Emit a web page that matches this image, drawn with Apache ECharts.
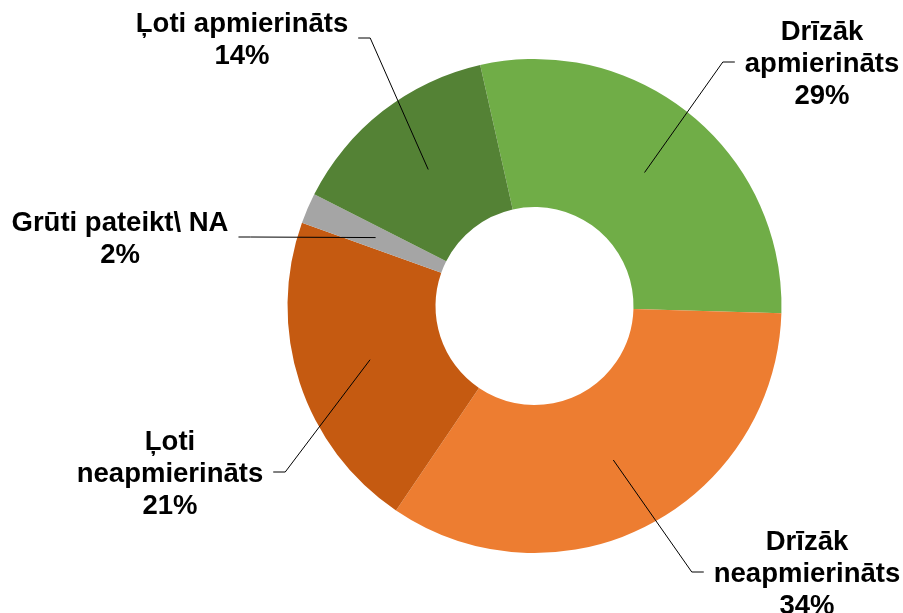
<!DOCTYPE html>
<html>
<head>
<meta charset="utf-8">
<title>Apmierinātība</title>
<script src="https://cdn.jsdelivr.net/npm/echarts@6/dist/echarts.min.js"></script>
<style>html,body{margin:0;padding:0;background:#fff;}</style>
</head>
<body>
<div id="main" style="width:903px;height:613px;"></div>
<script type="text/javascript">
var categories = ['Drīzāk\napmierināts', 'Drīzāk\nneapmierināts', 'Ļoti\nneapmierināts', 'Grūti pateikt\\ NA', 'Ļoti apmierināts'];
var shares = [29, 34, 21, 2, 14];
var colors = ['#70AD47', '#ED7D31', '#C55A11', '#A5A5A5', '#548235'];

// label block centres, Excel style placement
var labelCenters = [[822, 64], [807, 574], [170, 474], [120, 239], [242, 40]];

var cx = 534.5, cy = 306, r0 = 99, r1 = 247;

var pieData = [];
for (var i = 0; i < categories.length; i++) {
    pieData.push({ name: categories[i], value: shares[i] });
}

var myChart = echarts.init(document.getElementById('main'));

var ring = {
    type: 'pie',
    center: [cx, cy],
    radius: [r0, r1],
    startAngle: 102.7,
    clockwise: true,
    avoidLabelOverlap: false,
    silent: true,
    data: pieData
};

option = {
    animation: false,
    series: [
        // the coloured ring
        Object.assign({}, ring, {
            z: 2,
            color: colors,
            label: { show: false },
            labelLine: { show: false }
        }),
        // same ring drawn invisible on top, only for labels and leader lines
        Object.assign({}, ring, {
            z: 3,
            itemStyle: { color: 'rgba(0,0,0,0)' },
            label: {
                show: true,
                position: 'outside',
                formatter: function (p) { return p.name + '\n' + Math.round(p.percent) + '%'; },
                color: '#000',
                fontFamily: 'Liberation Sans, Arial, sans-serif',
                fontWeight: 'bold',
                fontSize: 27.5,
                lineHeight: 32
            },
            labelLine: {
                show: true,
                length: 30,
                length2: 12,
                lineStyle: { color: '#000', width: 1 }
            },
            labelLayout: function (p) {
                var c = labelCenters[p.dataIndex];
                var w = p.labelRect.width;
                var right = c[0] > cx;
                var edge = right ? c[0] - w / 2 - 10 : c[0] + w / 2 + 10;
                var elbow = right ? edge - 12 : edge + 12;
                // leader starts mid-ring on the slice's mid angle
                var pt = p.labelLinePoints[0];
                var dx = pt[0] - cx, dy = pt[1] - cy;
                var d = Math.sqrt(dx * dx + dy * dy);
                var rm = (r0 + r1) / 2;
                var start = [cx + dx / d * rm, cy + dy / d * rm];
                var ly = c[1] - 2;
                return {
                    x: c[0],
                    y: c[1],
                    align: 'center',
                    verticalAlign: 'middle',
                    labelLinePoints: [start, [elbow, ly], [edge, ly]]
                };
            }
        })
    ]
};
myChart.setOption(option);
</script>
</body>
</html>
